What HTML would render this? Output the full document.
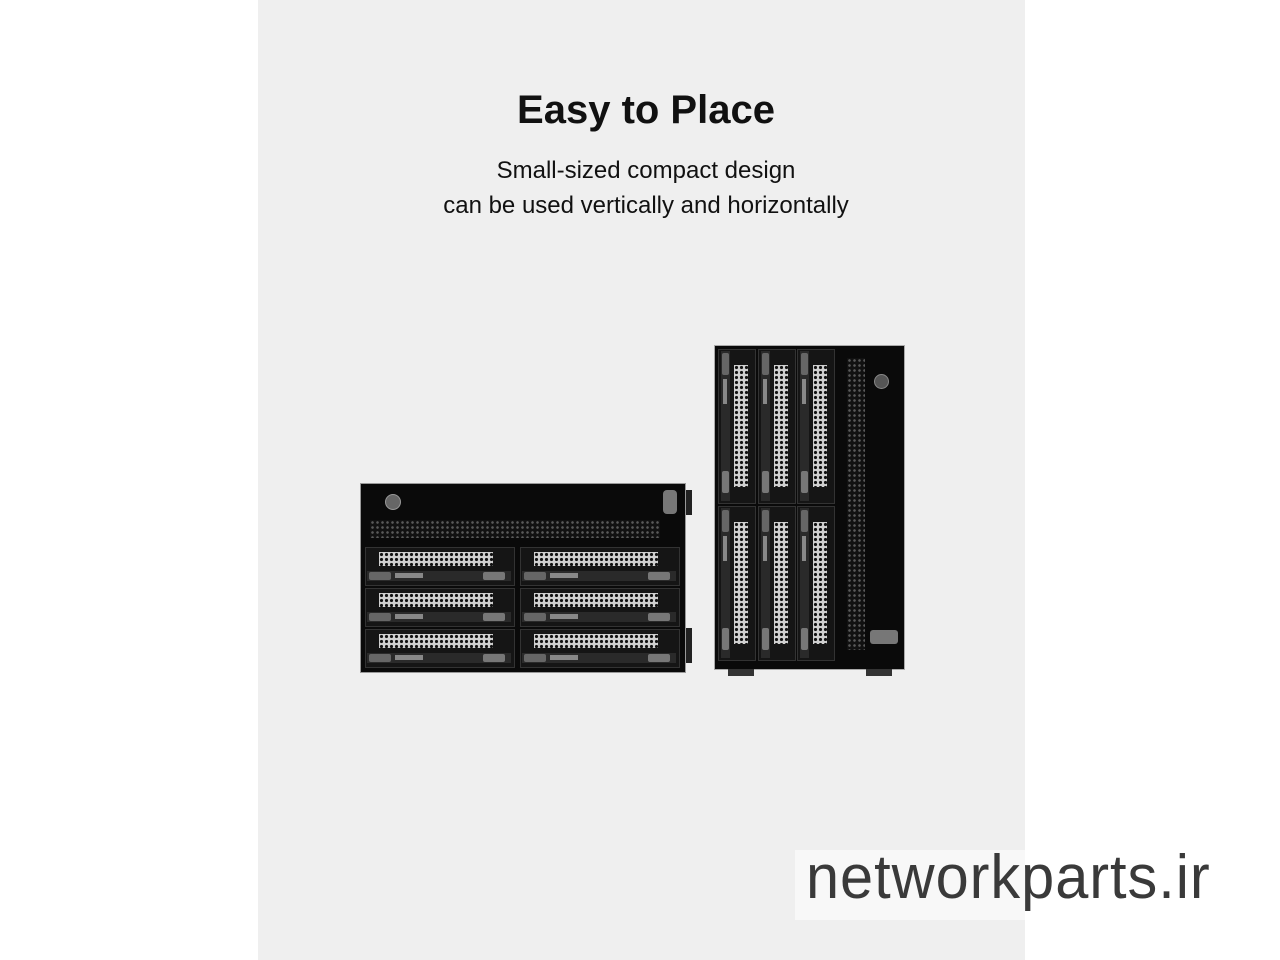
<!DOCTYPE html>
<html><head><meta charset="utf-8"><style>
body{margin:0;width:1280px;height:960px;background:#fff;position:relative;overflow:hidden;font-family:"Liberation Sans",sans-serif}
.panel{position:absolute;left:258px;top:0;width:767px;height:960px;background:#efefef}
.t{position:absolute;left:258px;width:776px;text-align:center;color:#111}
.a{position:absolute}
.mesh{background:#d0d0d0;background-image:radial-gradient(circle,#111 1.4px,transparent 1.8px);background-size:5px 5px}
.dmesh{background:#111;background-image:radial-gradient(circle,#5a5a5a 1.1px,transparent 1.5px);background-size:5px 5px}
</style></head><body>
<div class="panel"></div>
<div class="t" style="top:88px;font-size:40px;font-weight:bold">Easy to Place</div>
<div class="t" style="top:153px;font-size:24px;line-height:35px">Small-sized compact design<br>can be used vertically and horizontally</div>

<!-- horizontal NAS -->
<div class="a" style="left:360px;top:483px;width:326px;height:190px;background:#0a0a0a;border:1px solid #999;box-sizing:border-box"></div>
<div class="a" style="left:686px;top:490px;width:6px;height:25px;background:#222"></div>
<div class="a" style="left:686px;top:628px;width:6px;height:35px;background:#222"></div>
<div class="a" style="left:385px;top:494px;width:14px;height:14px;border-radius:50%;background:#666;border:1px solid #999"></div>
<div class="a" style="left:663px;top:490px;width:14px;height:24px;border-radius:4px;background:#777"></div>
<div class="a dmesh" style="left:370px;top:520px;width:290px;height:18px"></div>
<div id="hb"></div>

<!-- vertical NAS -->
<div class="a" style="left:714px;top:345px;width:191px;height:325px;background:#0a0a0a;border:1px solid #aaa;box-sizing:border-box"></div>
<div class="a" style="left:728px;top:669px;width:26px;height:7px;background:#333"></div>
<div class="a" style="left:866px;top:669px;width:26px;height:7px;background:#333"></div>
<div class="a dmesh" style="left:847px;top:358px;width:18px;height:292px"></div>
<div class="a" style="left:874px;top:374px;width:13px;height:13px;border-radius:50%;background:#555;border:1px solid #888"></div>
<div class="a" style="left:870px;top:630px;width:28px;height:14px;border-radius:3px;background:#777"></div>
<div id="vb"></div>

<div class="a" style="left:795px;top:850px;width:230px;height:70px;background:#f8f8f8"></div>
<div class="a" style="left:806px;top:842px;font-size:62px;color:#3a3a3a;letter-spacing:1px;transform:scaleX(0.96);transform-origin:left top">networkparts.ir</div>

<script>
var h='';
var cols=[[365,150],[520,160]],rows=[547,588,629];
rows.forEach(function(y){cols.forEach(function(c){
h+='<div class="a" style="left:'+c[0]+'px;top:'+y+'px;width:'+c[1]+'px;height:39px;background:#151515;border:1px solid #333;box-sizing:border-box"></div>';
h+='<div class="a mesh" style="left:'+(c[0]+14)+'px;top:'+(y+5)+'px;width:'+(c[1]-36)+'px;height:14px"></div>';
h+='<div class="a" style="left:'+(c[0]+2)+'px;top:'+(y+24)+'px;width:'+(c[1]-6)+'px;height:10px;background:#2a2a2a"></div>';
h+='<div class="a" style="left:'+(c[0]+4)+'px;top:'+(y+25)+'px;width:22px;height:8px;background:#666;border-radius:2px"></div>';
h+='<div class="a" style="left:'+(c[0]+30)+'px;top:'+(y+26)+'px;width:28px;height:5px;background:#888"></div>';
h+='<div class="a" style="left:'+(c[0]+c[1]-32)+'px;top:'+(y+25)+'px;width:22px;height:8px;background:#777;border-radius:2px"></div>';
});});
document.getElementById('hb').outerHTML=h;
var v='';
var vc=[718,758,797],vr=[349,506];
vr.forEach(function(y){vc.forEach(function(x){
v+='<div class="a" style="left:'+x+'px;top:'+y+'px;width:38px;height:155px;background:#151515;border:1px solid #333;box-sizing:border-box"></div>';
v+='<div class="a mesh" style="left:'+(x+16)+'px;top:'+(y+16)+'px;width:14px;height:122px"></div>';
v+='<div class="a" style="left:'+(x+3)+'px;top:'+(y+2)+'px;width:9px;height:150px;background:#2a2a2a"></div>';
v+='<div class="a" style="left:'+(x+4)+'px;top:'+(y+4)+'px;width:7px;height:22px;background:#666;border-radius:2px"></div>';
v+='<div class="a" style="left:'+(x+5)+'px;top:'+(y+30)+'px;width:4px;height:25px;background:#888"></div>';
v+='<div class="a" style="left:'+(x+4)+'px;top:'+(y+122)+'px;width:7px;height:22px;background:#777;border-radius:2px"></div>';
});});
document.getElementById('vb').outerHTML=v;
</script>
</body></html>
